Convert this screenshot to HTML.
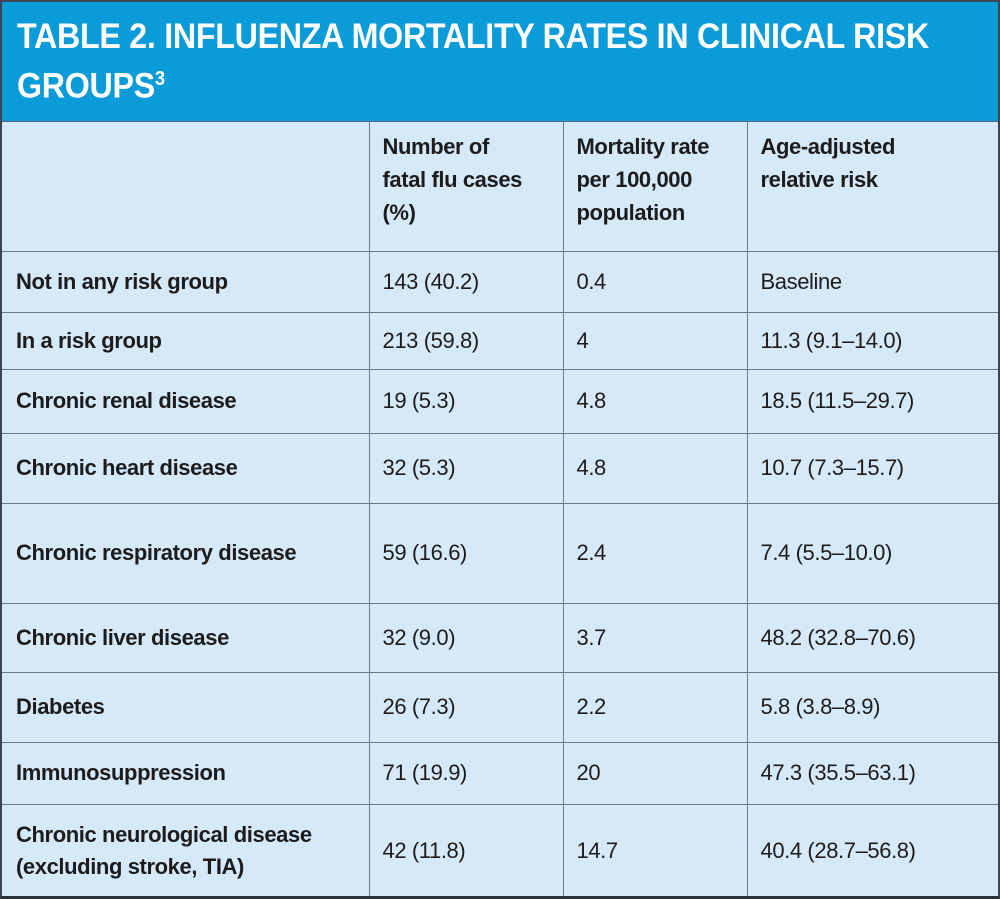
<!DOCTYPE html>
<html><head><meta charset="utf-8"><style>
html,body{margin:0;padding:0;background:#fff;}
#wrap{position:relative;width:1000px;height:899px;box-sizing:border-box;border:2px solid #3c4650;border-bottom:3px solid #2b3238;background:#d6e9f8;overflow:hidden;font-family:"Liberation Sans",sans-serif;}
#title{height:120px;background:#0b9bd9;border-bottom:1px solid #5a6a78;box-sizing:border-box;padding:14px 0 0 15px;color:#fff;font-weight:bold;font-size:35px;line-height:42px;}
#title span{display:inline-block;transform:scaleX(0.92);transform-origin:left top;white-space:nowrap;letter-spacing:-0.3px}
table{border-collapse:collapse;width:996px;table-layout:fixed;}
td{border:1px solid #6b7a88;font-size:22px;color:#1c1c1c;padding:0 0 0 13px;vertical-align:middle;letter-spacing:-0.4px;}
tr td:first-child{border-left:none;font-weight:bold;padding-left:14px;}
tr td:last-child{border-right:none;}
thead tr td{border-top:none;}
tbody tr:last-child td{border-bottom:none;}
thead td{font-weight:bold;line-height:33px;vertical-align:top;padding-top:8px;border-bottom:1px solid #6b7a88;}
</style></head><body>
<div id="wrap">
<div id="title"><span>TABLE 2. INFLUENZA MORTALITY RATES IN CLINICAL RISK<br>GROUPS<sup style="font-size:20px">3</sup></span></div>
<table>
<colgroup><col style="width:367px"><col style="width:194px"><col style="width:184px"><col style="width:251px"></colgroup>
<thead><tr style="height:129px">
<td></td>
<td>Number of<br>fatal flu cases<br>(%)</td>
<td>Mortality rate<br>per 100,000<br>population</td>
<td>Age-adjusted<br>relative risk</td>
</tr></thead>
<tbody>
<tr style="height:61px"><td>Not in any risk group</td><td>143 (40.2)</td><td>0.4</td><td>Baseline</td></tr>
<tr style="height:57px"><td>In a risk group</td><td>213 (59.8)</td><td>4</td><td>11.3 (9.1–14.0)</td></tr>
<tr style="height:64px"><td>Chronic renal disease</td><td>19 (5.3)</td><td>4.8</td><td>18.5 (11.5–29.7)</td></tr>
<tr style="height:70px"><td>Chronic heart disease</td><td>32 (5.3)</td><td>4.8</td><td>10.7 (7.3–15.7)</td></tr>
<tr style="height:100px"><td>Chronic respiratory disease</td><td>59 (16.6)</td><td>2.4</td><td>7.4 (5.5–10.0)</td></tr>
<tr style="height:69px"><td>Chronic liver disease</td><td>32 (9.0)</td><td>3.7</td><td>48.2 (32.8–70.6)</td></tr>
<tr style="height:70px"><td>Diabetes</td><td>26 (7.3)</td><td>2.2</td><td>5.8 (3.8–8.9)</td></tr>
<tr style="height:62px"><td>Immunosuppression</td><td>71 (19.9)</td><td>20</td><td>47.3 (35.5–63.1)</td></tr>
<tr style="height:93px"><td style="line-height:32px">Chronic neurological disease<br>(excluding stroke, TIA)</td><td>42 (11.8)</td><td>14.7</td><td>40.4 (28.7–56.8)</td></tr>
</tbody></table>
</div>
</body></html>
